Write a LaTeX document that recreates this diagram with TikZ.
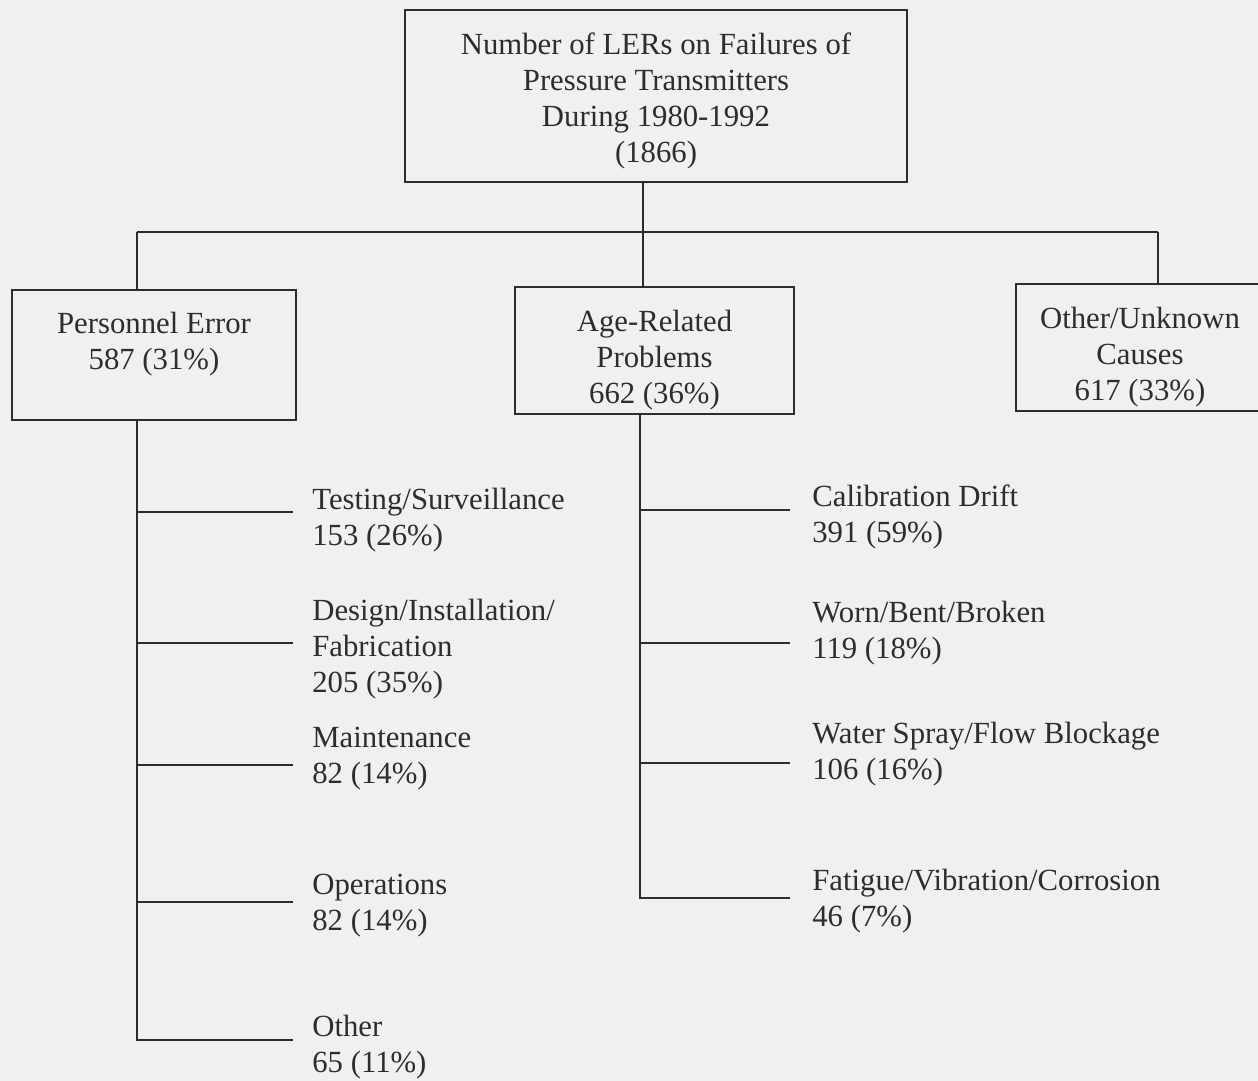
\documentclass[tikz,border=0pt]{standalone}
\usepackage{fontspec}
\setmainfont{Liberation Serif}
\usetikzlibrary{positioning}
\definecolor{paper}{RGB}{240,240,240}
\definecolor{ink}{RGB}{45,45,45}
\newcommand{\boxgap}[1]{\rule{0pt}{#1}}

\begin{document}
\begin{tikzpicture}[
  x=0.02cm, y=-0.02cm,
  every node/.style={text=ink, font=\fontsize{17.5}{20.5}\selectfont},
  box/.style={rectangle, draw=ink, line width=1.3pt, align=center, inner sep=0pt},
  cause/.style={anchor=north west, align=left, inner sep=0pt},
  wire/.style={draw=ink, line width=1.3pt}
]
  \fill[paper] (0,0) rectangle (1258,1081);
  \useasboundingbox (0,0) rectangle (1258,1081);
  % top box and the three main groups
  \node[box, minimum width=10.04cm, minimum height=3.44cm] (total) at (656,96)
    {\boxgap{0.62cm}Number of LERs on Failures of\\Pressure Transmitters\\During 1980-1992\\(1866)};
  \node[box, minimum width=5.68cm, minimum height=2.6cm] (pers) at (154,355)
    {\boxgap{0.8cm}Personnel Error\\587 (31\%)\\\strut};
  \node[box, minimum width=5.58cm, minimum height=2.54cm] (age) at (654.5,350.5)
    {\boxgap{0.8cm}Age-Related\\Problems\\662 (36\%)};
  \node[box, minimum width=4.96cm, minimum height=2.54cm] (other) at (1140,347.5)
    {\boxgap{0.82cm}Other/Unknown\\Causes\\617 (33\%)};
  \coordinate (hub)  at (643,232);
  \coordinate (barL) at (137,232);
  \coordinate (barR) at (1158,232);
  \draw[wire] (total.south -| hub) -- (hub);
  \draw[wire] (barL) -- (barR);
  \draw[wire] (barL) -- (barL |- pers.north);
  \draw[wire] (hub) -- (hub |- age.north);
  \draw[wire] (barR) -- (barR |- other.north);
  % personnel error causes
  \node[cause] (test)  at (312,488)  {Testing/Surveillance\\153 (26\%)};
  \node[cause] (dsgn)  at (312,599)  {Design/Installation/\\Fabrication\\205 (35\%)};
  \node[cause] (maint) at (312,727)  {Maintenance\\82 (14\%)};
  \node[cause] (oper)  at (312,874)  {Operations\\82 (14\%)};
  \node[cause] (misc)  at (312,1015) {Other\\65 (11\%)};
  \coordinate (p1) at (293,512);
  \coordinate (p2) at (293,643);
  \coordinate (p3) at (293,765);
  \coordinate (p4) at (293,902);
  \coordinate (p5) at (293,1040);
  \draw[wire] (barL |- pers.south) -- (barL |- p5) -- (p5);
  \draw[wire] (barL |- p1) -- (p1);
  \draw[wire] (barL |- p2) -- (p2);
  \draw[wire] (barL |- p3) -- (p3);
  \draw[wire] (barL |- p4) -- (p4);
  % age-related causes
  \node[cause] (drift) at (812,484) {Calibration Drift\\391 (59\%)};
  \node[cause] (worn)  at (812,601) {Worn/Bent/Broken\\119 (18\%)};
  \node[cause] (water) at (812,722) {Water Spray/Flow Blockage\\106 (16\%)};
  \node[cause] (fatig) at (812,869) {Fatigue/Vibration/Corrosion\\46 (7\%)};
  \coordinate (aroot) at (640,414);
  \coordinate (a1) at (790,510);
  \coordinate (a2) at (790,643);
  \coordinate (a3) at (790,763);
  \coordinate (a4) at (790,898);
  \draw[wire] (aroot) -- (aroot |- a4) -- (a4);
  \draw[wire] (aroot |- a1) -- (a1);
  \draw[wire] (aroot |- a2) -- (a2);
  \draw[wire] (aroot |- a3) -- (a3);
\end{tikzpicture}
\end{document}
